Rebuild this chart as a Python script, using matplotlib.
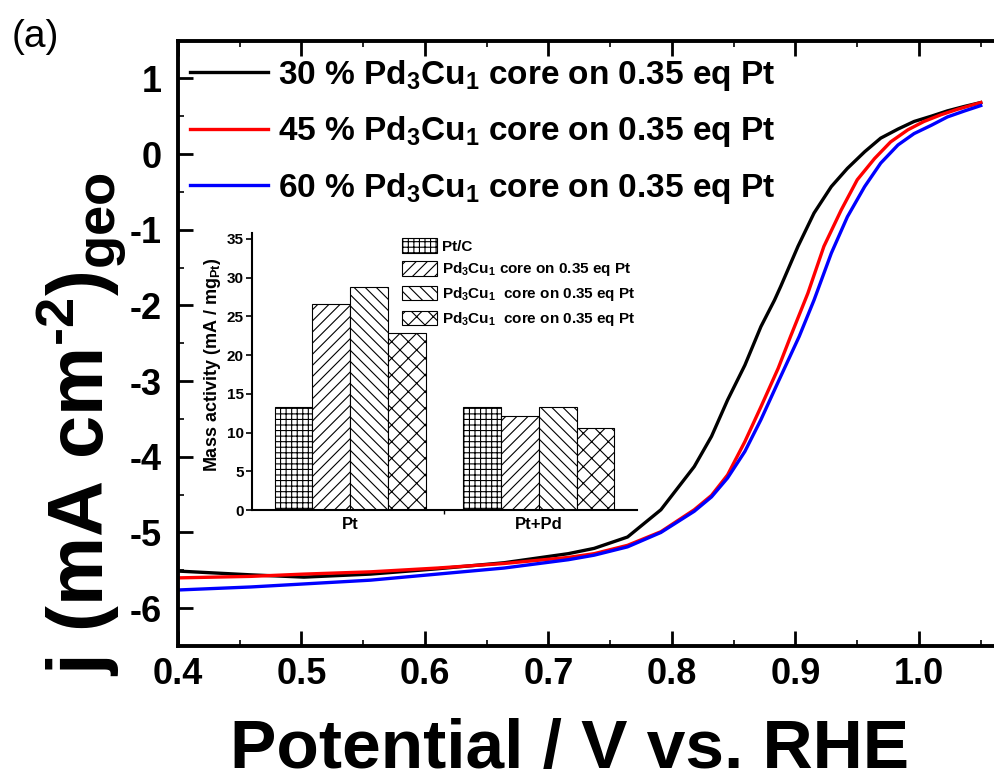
# Polarization curves of Pd3Cu1 core catalysts with mass-activity bar inset
import matplotlib
matplotlib.use('Agg')
import matplotlib.pyplot as plt
import numpy as np
from matplotlib.ticker import MultipleLocator

plt.rcParams['font.family'] = 'Liberation Sans'
plt.rcParams['font.weight'] = 'bold'
plt.rcParams['axes.unicode_minus'] = False
plt.rcParams['mathtext.fontset'] = 'custom'
plt.rcParams['mathtext.rm'] = 'Liberation Sans:bold'
plt.rcParams['mathtext.it'] = 'Liberation Sans:bold'
plt.rcParams['mathtext.bf'] = 'Liberation Sans:bold'
plt.rcParams['hatch.linewidth'] = 0.8

# LSV curves: potential (V vs. RHE) and current density (mA cm-2)
v_30 = [0.400, 0.459, 0.502, 0.556, 0.610, 0.664, 0.716, 0.737, 0.764, 0.791,
        0.818, 0.832, 0.845, 0.859, 0.872, 0.883, 0.888, 0.902, 0.915, 0.929,
        0.942, 0.956, 0.969, 0.983, 0.996, 1.010, 1.023, 1.037, 1.050]
j_30 = [-5.51, -5.56, -5.59, -5.55, -5.48, -5.40, -5.28, -5.21, -5.06, -4.70,
        -4.13, -3.73, -3.25, -2.79, -2.28, -1.93, -1.75, -1.22, -0.78, -0.43,
        -0.19, 0.03, 0.21, 0.33, 0.43, 0.50, 0.57, 0.63, 0.68]

v_45 = [0.400, 0.459, 0.502, 0.556, 0.610, 0.664, 0.716, 0.737, 0.764, 0.791,
        0.818, 0.832, 0.845, 0.859, 0.872, 0.886, 0.896, 0.910, 0.923, 0.937,
        0.950, 0.964, 0.977, 0.991, 1.004, 1.018, 1.031, 1.050]
j_45 = [-5.60, -5.58, -5.55, -5.52, -5.47, -5.41, -5.33, -5.28, -5.17, -4.99,
        -4.70, -4.51, -4.24, -3.80, -3.34, -2.83, -2.41, -1.84, -1.22, -0.74,
        -0.34, -0.06, 0.16, 0.32, 0.43, 0.52, 0.59, 0.68]

v_60 = [0.400, 0.459, 0.502, 0.556, 0.610, 0.664, 0.716, 0.737, 0.764, 0.791,
        0.818, 0.832, 0.845, 0.859, 0.872, 0.886, 0.903, 0.915, 0.929, 0.942,
        0.956, 0.969, 0.983, 0.996, 1.010, 1.023, 1.037, 1.050]
j_60 = [-5.76, -5.72, -5.68, -5.63, -5.55, -5.47, -5.36, -5.30, -5.19, -5.00,
        -4.72, -4.53, -4.28, -3.93, -3.51, -3.01, -2.41, -1.93, -1.31, -0.83,
        -0.43, -0.12, 0.12, 0.27, 0.38, 0.49, 0.57, 0.64]

curve_labels = ['30 % Pd$_3$Cu$_1$ core on 0.35 eq Pt',
                '45 % Pd$_3$Cu$_1$ core on 0.35 eq Pt',
                '60 % Pd$_3$Cu$_1$ core on 0.35 eq Pt']
curve_colors = ['black', 'red', 'blue']

# inset: mass activity (mA / mg_Pt)
groups = ['Pt', 'Pt+Pd']
bar_labels = ['Pt/C',
              'Pd$_3$Cu$_1$ core on 0.35 eq Pt',
              'Pd$_3$Cu$_1$  core on 0.35 eq Pt',
              'Pd$_3$Cu$_1$  core on 0.35 eq Pt']
mass_activity = [[13.3, 13.3],
                 [26.6, 12.1],
                 [28.8, 13.3],
                 [22.8, 10.6]]
hatches = ['+++', '///', '\\\\\\', 'xx']

fig = plt.figure(figsize=(9.95, 7.83), dpi=100)
W, H = 995, 783

ax = fig.add_axes([178 / W, 1 - 646 / H, (995 - 178) / W, (646 - 40.5) / H])
for v, j, c, lab in zip([v_30, v_45, v_60], [j_30, j_45, j_60], curve_colors, curve_labels):
    ax.plot(v, j, color=c, lw=2.4, label=lab)

ax.set_xlim(0.4, 0.4 + 817 / 1235)
ax.set_ylim(-6.5, 1.5)
ax.set_xticks(np.arange(0.4, 1.01, 0.1))
ax.set_xticklabels(['0.4', '0.5', '0.6', '0.7', '0.8', '0.9', '1.0'])
ax.xaxis.set_minor_locator(MultipleLocator(0.05))
ax.yaxis.set_major_locator(MultipleLocator(1))
ax.yaxis.set_minor_locator(MultipleLocator(0.5))
ax.tick_params(which='both', direction='in', top=True, right=False)
ax.tick_params(which='major', length=11, width=2.0)
ax.tick_params(which='minor', length=4, width=1.2)
ax.tick_params(axis='x', labelsize=26, pad=8)
ax.tick_params(axis='y', labelsize=26, pad=12)
for s in ['left', 'bottom', 'top']:
    ax.spines[s].set_linewidth(2.8)
ax.spines['right'].set_visible(False)

ax.legend(loc='upper left', bbox_to_anchor=(190 / W, 1 - 58 / H),
          bbox_transform=fig.transFigure, frameon=False, fontsize=24,
          handlelength=2.35, handletextpad=0.3, labelspacing=0.64,
          borderpad=0, borderaxespad=0)

fig.text(570 / W, 1 - 750 / H, 'Potential / V vs. RHE', fontsize=50,
         ha='center', va='center')
fig.text(82 / W, 1 - 424 / H, 'j (mA cm$^{\\text{-2}}$)$_{geo}$', fontsize=56,
         rotation=90, ha='center', va='center')
fig.text(35 / W, 1 - 37 / H, '(a)', fontsize=28, fontweight='normal',
         ha='center', va='center')

# inset bar chart
axi = fig.add_axes([252 / W, 1 - 510 / H, (637 - 252) / W, (510 - 233) / H])
x = np.arange(len(groups))
width = 0.2
for k in range(4):
    axi.bar(x + (k - 1.5) * width, mass_activity[k], width, color='white',
            edgecolor='black', hatch=hatches[k], lw=0.8, label=bar_labels[k])
axi.set_xlim(-0.52, 1.52)
axi.set_ylim(0, 35.77)
axi.set_xticks(x)
axi.set_xticklabels(groups)
axi.set_xticks([0.5], minor=True)
axi.yaxis.set_major_locator(MultipleLocator(5))
axi.tick_params(axis='x', which='major', length=0, labelsize=12, pad=5)
axi.tick_params(axis='x', which='minor', length=3, width=1)
axi.tick_params(axis='y', length=4, width=1.2, labelsize=11, pad=2)
axi.spines['top'].set_visible(False)
axi.spines['right'].set_visible(False)
axi.spines['left'].set_linewidth(1.5)
axi.spines['bottom'].set_linewidth(1.5)
axi.patch.set_alpha(0)
fig.text(213 / W, 1 - 365 / H, 'Mass activity (mA / mg$_{Pt}$)', fontsize=13,
         rotation=90, ha='center', va='center')
axi.legend(loc='upper left', bbox_to_anchor=(402 / W, 1 - 238 / H),
           bbox_transform=fig.transFigure, frameon=False, fontsize=11,
           handlelength=2.3, handleheight=1.1, handletextpad=0.3,
           labelspacing=0.45, borderpad=0, borderaxespad=0)

fig.savefig('out.png', dpi=100)
